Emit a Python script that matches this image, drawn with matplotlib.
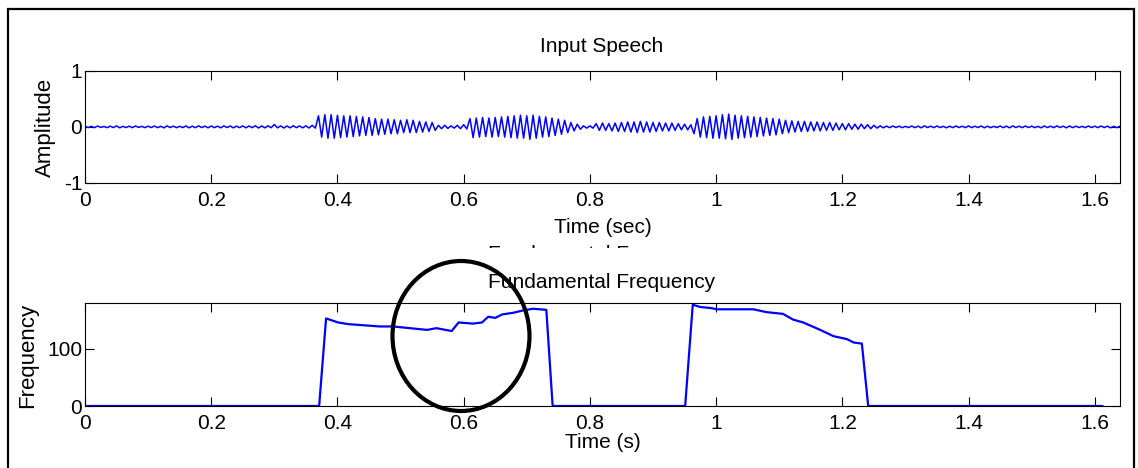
import numpy as np
import matplotlib
matplotlib.use("Agg")
import matplotlib.pyplot as plt
from matplotlib.patches import Ellipse, Rectangle

plt.rcParams['font.family'] = ['Liberation Sans', 'DejaVu Sans']
plt.rcParams['font.size'] = 15

# speech waveform envelope, one (upper, lower) pair every 10 ms
frame_step = 0.01
wave_hi = [
    0.015, 0.012, 0.018, 0.010, 0.015, 0.020, 0.012, 0.015, 0.018, 0.012,
    0.015, 0.018, 0.012, 0.020, 0.015, 0.012, 0.018, 0.015, 0.020, 0.015,
    0.018, 0.015, 0.020, 0.018, 0.015, 0.020, 0.018, 0.022, 0.018, 0.020,
    0.045, 0.020, 0.018, 0.022, 0.018, 0.020, 0.030, 0.200, 0.220, 0.220,
    0.210, 0.200, 0.200, 0.190, 0.180, 0.170, 0.150, 0.140, 0.140, 0.130,
    0.120, 0.130, 0.120, 0.100, 0.090, 0.080, 0.030, 0.030, 0.020, 0.030,
    0.040, 0.150, 0.160, 0.170, 0.160, 0.170, 0.180, 0.190, 0.200, 0.210,
    0.200, 0.210, 0.190, 0.180, 0.160, 0.140, 0.120, 0.080, 0.050, 0.020,
    0.020, 0.060, 0.070, 0.060, 0.070, 0.080, 0.090, 0.090, 0.100, 0.090,
    0.080, 0.080, 0.070, 0.070, 0.060, 0.050, 0.040, 0.150, 0.180, 0.190,
    0.200, 0.220, 0.230, 0.210, 0.200, 0.190, 0.180, 0.170, 0.160, 0.150,
    0.140, 0.120, 0.110, 0.100, 0.100, 0.090, 0.090, 0.080, 0.080, 0.070,
    0.060, 0.060, 0.050, 0.050, 0.040, 0.030, 0.020, 0.015, 0.018, 0.015,
    0.012, 0.018, 0.015, 0.020, 0.015, 0.018, 0.012, 0.015, 0.018, 0.015,
    0.020, 0.015, 0.018, 0.015, 0.012, 0.018, 0.015, 0.020, 0.015, 0.018,
    0.015, 0.012, 0.018, 0.015, 0.020, 0.015, 0.018, 0.015, 0.012, 0.018,
    0.015, 0.018, 0.015, 0.012, 0.015,
]
wave_lo = [
    -0.010, -0.012, -0.008, -0.012, -0.010, -0.015, -0.010, -0.012, -0.008, -0.012,
    -0.010, -0.012, -0.015, -0.010, -0.012, -0.010, -0.015, -0.012, -0.010, -0.015,
    -0.012, -0.015, -0.010, -0.015, -0.012, -0.015, -0.012, -0.018, -0.015, -0.012,
    -0.015, -0.018, -0.015, -0.012, -0.015, -0.018, -0.020, -0.180, -0.200, -0.200,
    -0.190, -0.180, -0.170, -0.160, -0.150, -0.150, -0.140, -0.130, -0.120, -0.120,
    -0.100, -0.100, -0.100, -0.090, -0.080, -0.060, -0.030, -0.025, -0.020, -0.030,
    -0.035, -0.190, -0.180, -0.170, -0.180, -0.170, -0.180, -0.190, -0.200, -0.200,
    -0.220, -0.200, -0.180, -0.170, -0.150, -0.130, -0.100, -0.070, -0.040, -0.020,
    -0.020, -0.060, -0.060, -0.070, -0.080, -0.080, -0.090, -0.100, -0.090, -0.090,
    -0.080, -0.070, -0.070, -0.060, -0.050, -0.050, -0.120, -0.180, -0.190, -0.200,
    -0.200, -0.210, -0.220, -0.200, -0.190, -0.180, -0.170, -0.160, -0.150, -0.140,
    -0.120, -0.100, -0.090, -0.080, -0.080, -0.070, -0.070, -0.060, -0.060, -0.050,
    -0.050, -0.040, -0.040, -0.030, -0.030, -0.020, -0.015, -0.012, -0.010, -0.012,
    -0.010, -0.012, -0.015, -0.010, -0.012, -0.010, -0.015, -0.012, -0.010, -0.012,
    -0.012, -0.010, -0.015, -0.012, -0.010, -0.012, -0.015, -0.010, -0.012, -0.010,
    -0.012, -0.015, -0.010, -0.012, -0.010, -0.015, -0.012, -0.010, -0.012, -0.010,
    -0.012, -0.010, -0.015, -0.012, -0.010,
]

# pitch track
f0_time = [0, 0.371, 0.382, 0.401, 0.418, 0.467, 0.488, 0.515, 0.542, 0.557,
           0.581, 0.592, 0.615, 0.629, 0.639, 0.650, 0.661, 0.679, 0.694, 0.710,
           0.731, 0.741, 0.951, 0.963, 0.975, 0.993, 1.001, 1.059, 1.080, 1.106,
           1.122, 1.138, 1.165, 1.186, 1.207, 1.218, 1.231, 1.241, 1.612]
f0_hz = [0, 0, 153, 146, 143, 139, 139, 136, 133, 136,
         131, 146, 144, 146, 156, 154, 160, 163, 167, 170,
         168, 0, 0, 177, 173, 171, 169, 169, 164, 161,
         151, 146, 133, 122, 117, 111, 109, 0, 0]

xticks = [0, 0.2, 0.4, 0.6, 0.8, 1, 1.2, 1.4, 1.6]
xticklabels = ["0", "0.2", "0.4", "0.6", "0.8", "1", "1.2", "1.4", "1.6"]

W, H = 1138, 468
fig = plt.figure(figsize=(W / 100, H / 100), dpi=100)

def px(x, y):
    return x / W, 1 - y / H

# waveform as a zig-zag between upper and lower envelope
t0 = np.arange(len(wave_hi)) * frame_step
wt = np.column_stack([t0, t0 + frame_step / 2]).ravel()
wv = np.column_stack([wave_hi, wave_lo]).ravel()

ax1 = fig.add_axes([85 / W, 1 - 183 / H, 1035 / W, 112 / H])
ax1.plot(wt, wv, color='#0000ff', lw=1.1)
ax1.set_xlim(0, 1.64)
ax1.set_ylim(-1, 1)
ax1.set_yticks([-1, 0, 1])
ax1.set_yticklabels(["-1", "0", "1"])

ax2 = fig.add_axes([85 / W, 1 - 406 / H, 1035 / W, 103 / H])
ax2.plot(f0_time, f0_hz, color='#0000ff', lw=1.6)
ax2.set_xlim(0, 1.64)
ax2.set_ylim(0, 180)
ax2.set_yticks([0, 100])
ax2.set_yticklabels(["0", "100"])

for ax in (ax1, ax2):
    ax.set_xticks(xticks)
    ax.set_xticklabels(xticklabels)
    ax.tick_params(direction='in', length=6.5, width=0.8, top=True, right=True,
                   labelsize=15)
    ax.tick_params(axis='x', pad=6)
    ax.tick_params(axis='y', pad=2)
    for s in ax.spines.values():
        s.set_linewidth(0.8)

# titles and labels
fig.text(*px(602, 47), "Input Speech", ha='center', va='center')
fig.text(*px(603, 227), "Time (sec)", ha='center', va='center')
fig.text(*px(45, 127), "Amplitude", ha='center', va='center', rotation=90, fontsize=16)

# partly hidden duplicate title
fig.text(*px(602, 254), "Fundamental Frequency", ha='center', va='center')
fig.patches.append(Rectangle(px(470, 270), 270 / W, 22 / H, transform=fig.transFigure,
                             facecolor='white', edgecolor='none', zorder=5))

fig.text(*px(602, 282), "Fundamental Frequency", ha='center', va='center', zorder=6)
fig.text(*px(603, 443), "Time (s)", ha='center', va='center')
fig.text(*px(28, 355), "Frequency", ha='center', va='center', rotation=90, fontsize=16)

# highlight circle
fig.patches.append(Ellipse(px(461, 336), 137 / W, 150 / H, transform=fig.transFigure,
                           fill=False, edgecolor='black', lw=3, zorder=10))

# outer frame
fig.patches.append(Rectangle(px(8, 480), 1126 / W, 471 / H, transform=fig.transFigure,
                             fill=False, edgecolor='black', lw=1.6, zorder=10))

fig.savefig("out.png", dpi=100)
